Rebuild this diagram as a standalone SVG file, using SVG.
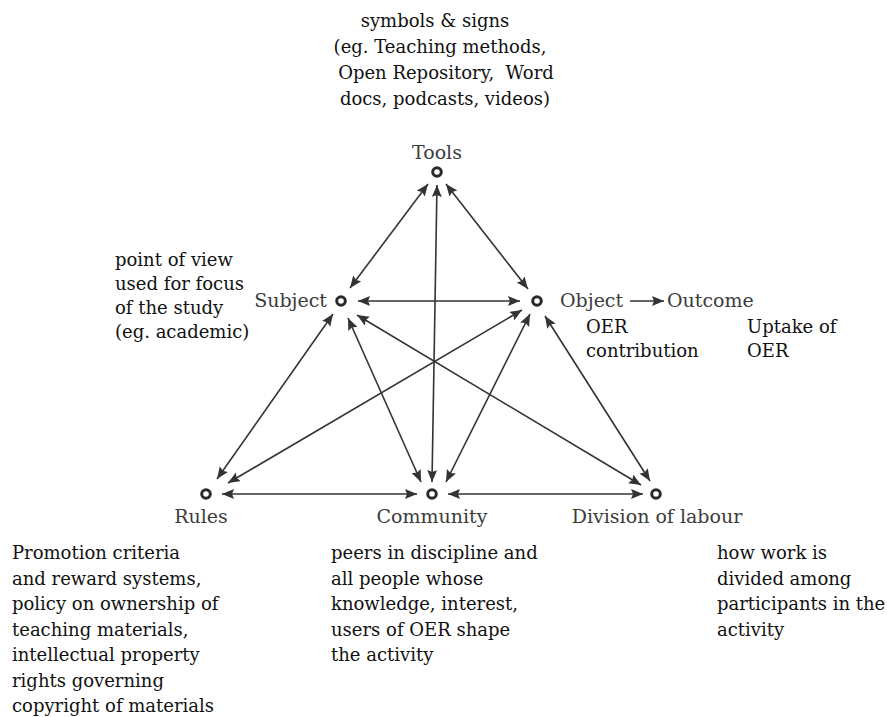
<svg xmlns="http://www.w3.org/2000/svg" width="887" height="717" viewBox="0 0 887 717">
<style>
.desc{font-family:"DejaVu Serif","Liberation Serif",serif;font-size:18px;fill:#111}
.lbl{font-family:"DejaVu Serif","Liberation Serif",serif;font-size:19px;fill:#3c3c3c}
.node{fill:#fff;stroke:#2a2a2a;stroke-width:3}
.edge{stroke:#333;stroke-width:1.6;fill:none;marker-start:url(#ah);marker-end:url(#ah)}
.one{stroke:#333;stroke-width:1.6;fill:none;marker-end:url(#ah)}
</style>
<defs>
<marker id="ah" markerUnits="userSpaceOnUse" markerWidth="13" markerHeight="11" refX="12" refY="5" orient="auto-start-reverse">
<path d="M0,0 L12,5 L0,10 L2,5 z" fill="#333"/>
</marker>
</defs>
<rect width="887" height="717" fill="#fff"/>

<g id="connectors">
<line class="edge" x1="428" y1="184" x2="350" y2="288"/>
<line class="edge" x1="446" y1="184" x2="528" y2="289"/>
<line class="edge" x1="437" y1="185" x2="432" y2="482"/>
<line class="edge" x1="358" y1="301" x2="520" y2="301"/>
<line class="edge" x1="333" y1="314" x2="217" y2="479"/>
<line class="edge" x1="348" y1="318" x2="421" y2="482"/>
<line class="edge" x1="357" y1="315" x2="641" y2="485"/>
<line class="edge" x1="522" y1="310" x2="228" y2="483"/>
<line class="edge" x1="530" y1="314" x2="446" y2="482"/>
<line class="edge" x1="545" y1="316" x2="650" y2="481"/>
<line class="edge" x1="222" y1="494" x2="417" y2="494"/>
<line class="edge" x1="448" y1="494" x2="643" y2="494"/>
<line class="one" x1="630" y1="301" x2="664" y2="301"/>
</g>

<g id="tools">
<text class="desc" x="435" y="27" text-anchor="middle">symbols &amp; signs</text>
<text class="desc" x="440" y="53" text-anchor="middle">(eg. Teaching methods,</text>
<text class="desc" x="446" y="79" text-anchor="middle" xml:space="preserve">Open Repository,  Word</text>
<text class="desc" x="445" y="105" text-anchor="middle">docs, podcasts, videos)</text>
<text class="lbl" x="437" y="159" text-anchor="middle">Tools</text>
<circle class="node" cx="437" cy="172" r="4.3"/>
</g>

<g id="subject">
<text class="desc" x="115" y="266">point of view</text>
<text class="desc" x="115" y="290">used for focus</text>
<text class="desc" x="115" y="314">of the study</text>
<text class="desc" x="115" y="338">(eg. academic)</text>
<text class="lbl" x="327" y="307" text-anchor="end">Subject</text>
<circle class="node" cx="341" cy="301" r="4.3"/>
</g>

<g id="object">
<text class="lbl" x="560" y="307">Object</text>
<text class="desc" x="586" y="333">OER</text>
<text class="desc" x="586" y="357">contribution</text>
<circle class="node" cx="537" cy="301" r="4.3"/>
</g>

<g id="outcome">
<text class="lbl" x="667" y="307">Outcome</text>
<text class="desc" x="747" y="333">Uptake of</text>
<text class="desc" x="747" y="357">OER</text>
</g>

<g id="rules">
<circle class="node" cx="206" cy="494" r="4.3"/>
<text class="lbl" x="201" y="523" text-anchor="middle">Rules</text>
<text class="desc" x="12" y="559">Promotion criteria</text>
<text class="desc" x="12" y="585">and reward systems,</text>
<text class="desc" x="12" y="610">policy on ownership of</text>
<text class="desc" x="12" y="636">teaching materials,</text>
<text class="desc" x="12" y="661">intellectual property</text>
<text class="desc" x="12" y="687">rights governing</text>
<text class="desc" x="12" y="712">copyright of materials</text>
</g>

<g id="community">
<circle class="node" cx="432" cy="494" r="4.3"/>
<text class="lbl" x="432" y="523" text-anchor="middle">Community</text>
<text class="desc" x="331" y="559">peers in discipline and</text>
<text class="desc" x="331" y="585">all people whose</text>
<text class="desc" x="331" y="610">knowledge, interest,</text>
<text class="desc" x="331" y="636">users of OER shape</text>
<text class="desc" x="331" y="661">the activity</text>
</g>

<g id="division">
<circle class="node" cx="656" cy="494" r="4.3"/>
<text class="lbl" x="657" y="523" text-anchor="middle">Division of labour</text>
<text class="desc" x="717" y="559">how work is</text>
<text class="desc" x="717" y="585">divided among</text>
<text class="desc" x="717" y="610">participants in the</text>
<text class="desc" x="717" y="636">activity</text>
</g>
</svg>
